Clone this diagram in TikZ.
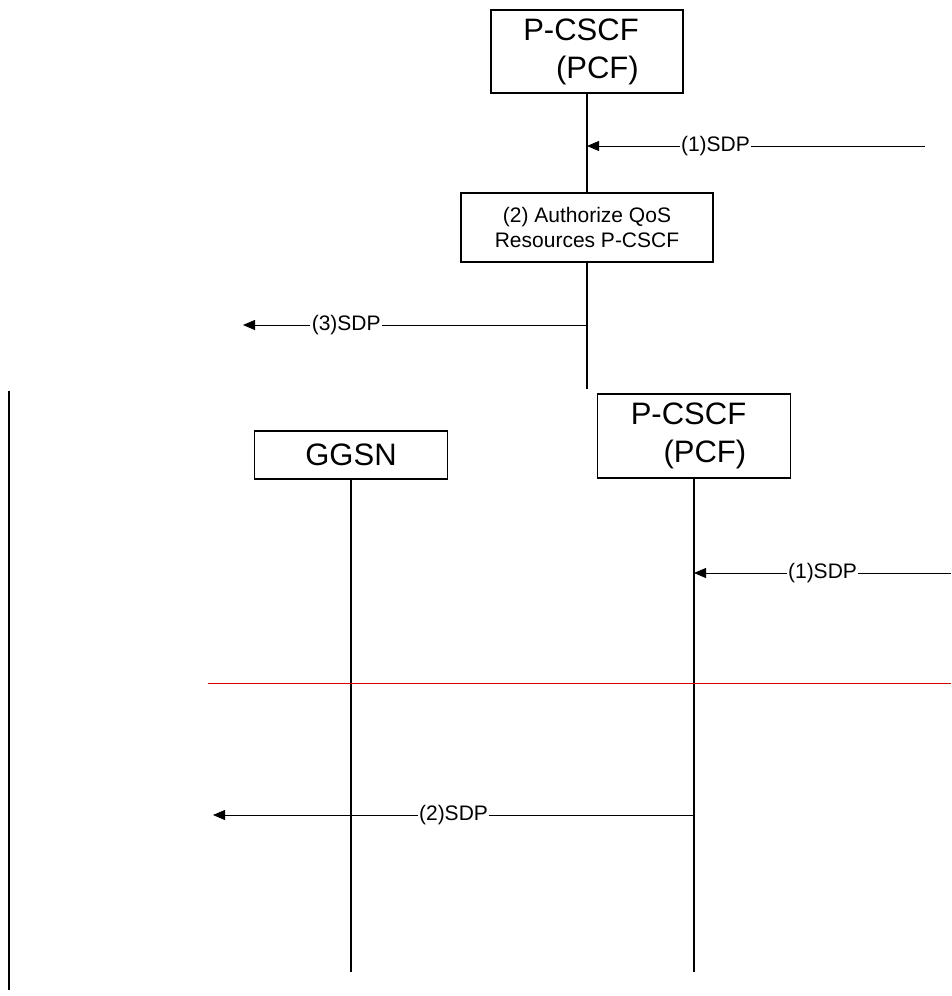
\documentclass[tikz,border=0pt]{standalone}
\usepackage{fontspec}
\setmainfont{Liberation Sans}
\usetikzlibrary{arrows.meta,positioning}
\definecolor{sepred}{RGB}{214,0,0}

\begin{document}
\begin{tikzpicture}[x=1pt,y=-1pt,
  entity/.style={draw, line width=1.2pt, inner sep=0pt, align=right, font=\fontsize{31}{38}\selectfont},
  action/.style={draw, line width=1.2pt, inner sep=0pt, align=center, font=\fontsize{21}{25}\selectfont},
  life/.style={line width=1.8pt},
  msg/.style={line width=0.8pt, -{Triangle[length=12pt,width=10pt]}},
  lbl/.style={fill=white, inner sep=1.5pt, font=\fontsize{21}{25}\selectfont}]
\useasboundingbox (0,0) rectangle (951,996);

% Upper flow
\node[entity, minimum width=192pt, minimum height=83pt] (pcscfA) at (587,51.5) {P-CSCF\kern12pt\\(PCF)\kern12pt};
\node[action, minimum width=252pt, minimum height=69pt] (authA) at (587,227.5) {(2) Authorize QoS\\Resources P-CSCF};
\coordinate (endA) at (587,389);
\draw[life] (pcscfA.south) -- (authA.north);
\draw[life] (authA.south) -- (endA);

\coordinate (inA) at (925,146);
\coordinate (outA) at (243,325);
\draw[msg] (inA) -- node[lbl, pos=0.62] {(1)SDP} (pcscfA.south |- inA);
\draw[msg] (endA |- outA) -- node[lbl, pos=0.70] {(3)SDP} (outA);

% Lower flow
\coordinate (edgeTop) at (9,391);
\coordinate (edgeBot) at (9,990);
\draw[line width=1.8pt] (edgeTop) -- (edgeBot);

\node[entity, align=center, minimum width=193pt, minimum height=48pt] (ggsn) at (351,455) {GGSN};
\node[entity, minimum width=193pt, minimum height=84pt] (pcscfB) at (694,436) {P-CSCF\kern11pt\\(PCF)\kern11pt};
\coordinate (ggsnEnd) at (351,972);
\coordinate (pcscfEnd) at (694,972);
\draw[life] (ggsn.south) -- (ggsnEnd);
\draw[life] (pcscfB.south) -- (pcscfEnd);

\coordinate (inB) at (951,573);
\coordinate (sepL) at (208,683);
\coordinate (sepR) at (951,683);
\coordinate (outB) at (213,815);
\draw[msg] (inB) -- node[lbl] {(1)SDP} (pcscfB.south |- inB);
\draw[sepred, line width=0.8pt] (sepL) -- (sepR);
\draw[msg] (pcscfB.south |- outB) -- node[lbl] {(2)SDP} (outB);

\end{tikzpicture}
\end{document}
